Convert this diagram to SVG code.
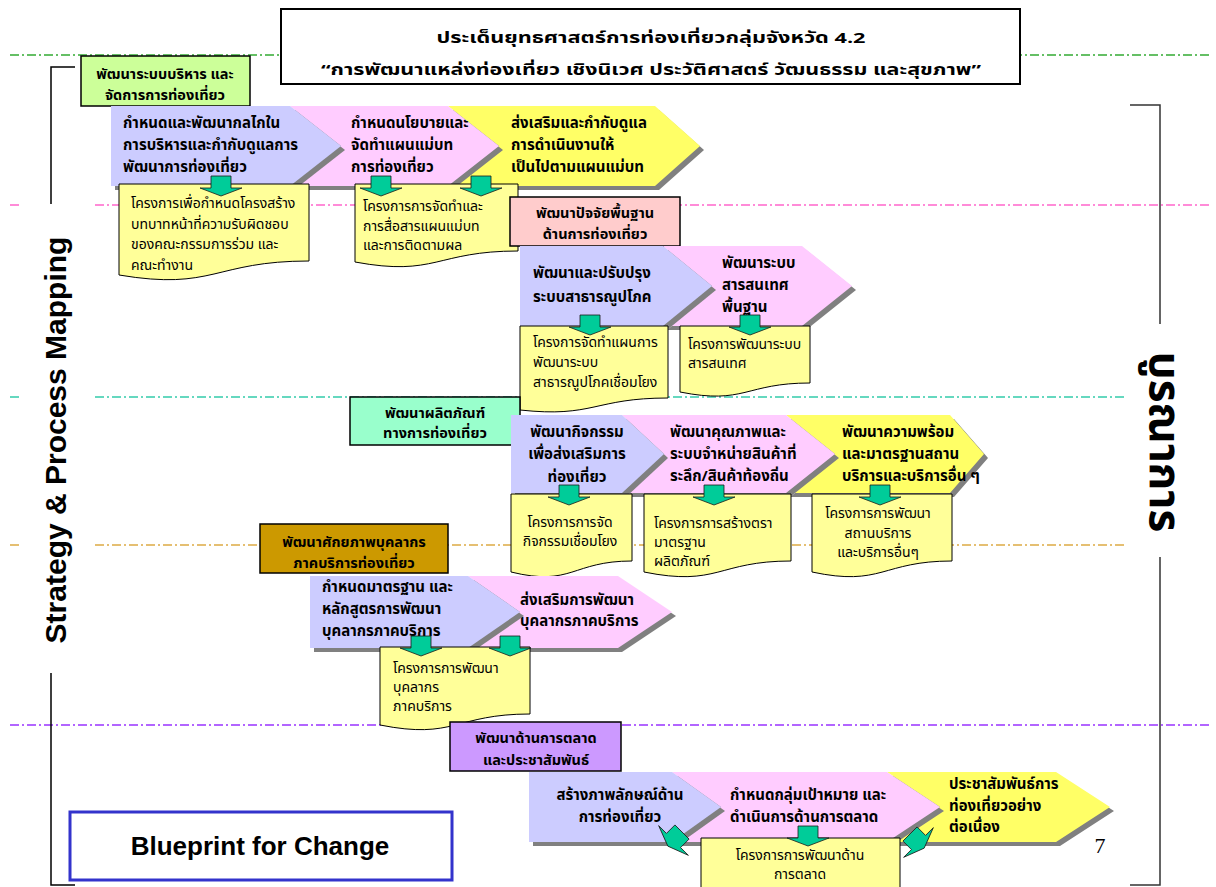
<svg xmlns="http://www.w3.org/2000/svg" xmlns:xlink="http://www.w3.org/1999/xlink" width="1216" height="887" viewBox="0 0 1216 887">
<style>
.t{font-family:'Noto Sans Thai',Tahoma,'Noto Sans','DejaVu Sans',sans-serif;font-weight:bold;font-size:15px;fill:#000}
.h{font-size:14.5px}
.d{font-family:'Noto Sans Thai',Tahoma,'Noto Sans','DejaVu Sans',sans-serif;font-weight:normal;font-size:14px;fill:#000}
.c{text-anchor:middle}
.hb{stroke:#000;stroke-width:1.5}
.sh{fill:#808080}
.lav{fill:#ccccff}
.pnk{fill:#ffccff}
.yel{fill:#ffff66}
.doc{fill:#ffff99;stroke:#000;stroke-width:1}
.arr{fill:#00cc99;stroke:#1a1a1a;stroke-width:0.8}
.gl{fill:none;stroke-width:1.3;stroke-dasharray:9 3 2 3}
</style>
<defs>
<path id="dn" d="M-10,0 H10 V12 H21 L0,20 L-21,12 H-10 Z"/>
</defs>
<rect width="1216" height="887" fill="#fff"/>
<g id="guides">
<line class="gl" x1="10" y1="55" x2="1212" y2="55" stroke="#33aa33"/>
<line class="gl" x1="10" y1="205" x2="1212" y2="205" stroke="#ff66cc"/>
<line class="gl" x1="10" y1="397" x2="1212" y2="397" stroke="#33ccaa"/>
<line class="gl" x1="10" y1="545" x2="1212" y2="545" stroke="#ddaa44"/>
<line class="gl" x1="10" y1="725" x2="1212" y2="725" stroke="#9933ff"/>
<rect x="20" y="202" width="72" height="472" fill="#fff"/>
<rect x="1127" y="324" width="89" height="233" fill="#fff"/>
</g>
<g id="brackets" fill="none" stroke="#000" stroke-width="1.5">
<path d="M75,67 H51 V204 M51,673 V885 H75"/>
<path d="M1130,105 H1160 V324 M1160,557 V885 H1130" stroke="#333"/>
</g>
<g id="side-labels">
<text transform="translate(57,440) rotate(-90)" y="9" text-anchor="middle" font-family="'Liberation Sans',Arial,sans-serif" font-weight="bold" font-size="30">Strategy &amp; Process Mapping</text>
<text transform="translate(1150,442) rotate(90)" text-anchor="middle" font-family="'Noto Sans Thai',Tahoma,'Noto Sans',sans-serif" font-weight="bold" font-size="44">บูรณาการ</text>
</g>
<g id="title">
<rect x="281" y="9" width="739" height="75" fill="#fff" stroke="#000" stroke-width="2"/>
<text class="t c" font-size="24" x="651" y="43" textLength="429" lengthAdjust="spacingAndGlyphs">ประเด็นยุทธศาสตร์การท่องเที่ยวกลุ่มจังหวัด 4.2</text>
<text class="t c" font-size="24" x="651" y="75" textLength="660" lengthAdjust="spacingAndGlyphs">“การพัฒนาแหล่งท่องเที่ยว เชิงนิเวศ ประวัติศาสตร์ วัฒนธรรม และสุขภาพ”</text>
</g>
<g id="blueprint">
<rect x="70" y="812" width="382" height="68" fill="#fff" stroke="#3333cc" stroke-width="3"/>
<text x="260" y="855" text-anchor="middle" font-family="'Liberation Sans',Arial,sans-serif" font-weight="bold" font-size="26">Blueprint for Change</text>
</g>
<text id="page" x="1100" y="853" text-anchor="middle" font-family="'Liberation Serif','Times New Roman',serif" font-size="22">7</text>

<!-- Row 1 -->
<g id="h1"><rect class="hb" x="81" y="56" width="169" height="50" fill="#ccff99"/>
<text class="t h c"><tspan x="165" y="79">พัฒนาระบบบริหาร และ</tspan><tspan x="165" y="100">จัดการการท่องเที่ยว</tspan></text></g>
<g id="c3"><polygon class="sh" transform="translate(4,4)" points="448,106 655,106 700,146 655,186 448,186 499,146"/><polygon class="yel" points="448,106 655,106 700,146 655,186 448,186 499,146"/>
<text class="t"><tspan x="511" y="128">ส่งเสริมและกำกับดูแล</tspan><tspan x="511" y="150">การดำเนินงานให้</tspan><tspan x="511" y="172">เป็นไปตามแผนแม่บท</tspan></text></g>
<g id="c2"><polygon class="sh" transform="translate(4,4)" points="290,106 448,106 499,146 448,186 290,186 341,146"/><polygon class="pnk" points="290,106 448,106 499,146 448,186 290,186 341,146"/>
<text class="t"><tspan x="351" y="128">กำหนดนโยบายและ</tspan><tspan x="351" y="150">จัดทำแผนแม่บท</tspan><tspan x="351" y="172">การท่องเที่ยว</tspan></text></g>
<g id="c1"><polygon class="sh" transform="translate(4,4)" points="111,106 290,106 341,146 290,186 111,186"/><polygon class="lav" points="111,106 290,106 341,146 290,186 111,186"/>
<text class="t"><tspan x="123" y="128">กำหนดและพัฒนากลไกใน</tspan><tspan x="123" y="150">การบริหารและกำกับดูแลการ</tspan><tspan x="123" y="172">พัฒนาการท่องเที่ยว</tspan></text></g>
<g id="d1"><path class="doc" d="M119,184 H309 V261 C214,261 214,291 119,275 Z"/>
<text class="d" font-size="13.5"><tspan x="131" y="208">โครงการเพื่อกำหนดโครงสร้าง</tspan><tspan x="131" y="228.5">บทบาทหน้าที่ความรับผิดชอบ</tspan><tspan x="131" y="249">ของคณะกรรมการร่วม และ</tspan><tspan x="131" y="270">คณะทำงาน</tspan></text></g>
<g id="d2"><path class="doc" d="M355,184 H518 V251 C436,251 436,277 355,262 Z"/>
<text class="d"><tspan x="363" y="211">โครงการการจัดทำและ</tspan><tspan x="363" y="231">การสื่อสารแผนแม่บท</tspan><tspan x="363" y="250">และการติดตามผล</tspan></text></g>

<!-- Row 2 -->
<g id="h2"><rect class="hb" x="510" y="197" width="170" height="49" fill="#ffcccc"/>
<text class="t h c"><tspan x="595" y="218">พัฒนาปัจจัยพื้นฐาน</tspan><tspan x="595" y="239">ด้านการท่องเที่ยว</tspan></text></g>
<g id="c5"><polygon class="sh" transform="translate(4,4)" points="663,246 802,246 852,286 802,326 663,326 712,286"/><polygon class="pnk" points="663,246 802,246 852,286 802,326 663,326 712,286"/>
<text class="t"><tspan x="722" y="268">พัฒนาระบบ</tspan><tspan x="722" y="290">สารสนเทศ</tspan><tspan x="722" y="312">พื้นฐาน</tspan></text></g>
<g id="c4"><polygon class="sh" transform="translate(4,4)" points="520,246 663,246 712,286 663,326 520,326"/><polygon class="lav" points="520,246 663,246 712,286 663,326 520,326"/>
<text class="t"><tspan x="533" y="278">พัฒนาและปรับปรุง</tspan><tspan x="533" y="302">ระบบสาธารณูปโภค</tspan></text></g>
<g id="d3"><path class="doc" d="M520,326 H668 V398 C594,398 594,418 520,410 Z"/>
<text class="d"><tspan x="533" y="347">โครงการจัดทำแผนการ</tspan><tspan x="533" y="367">พัฒนาระบบ</tspan><tspan x="533" y="387">สาธารณูปโภคเชื่อมโยง</tspan></text></g>
<g id="d4"><path class="doc" d="M680,326 H810 V383 C745,383 745,405 680,392 Z"/>
<text class="d"><tspan x="688" y="349">โครงการพัฒนาระบบ</tspan><tspan x="688" y="368">สารสนเทศ</tspan></text></g>

<!-- Row 3 -->
<g id="h3"><rect class="hb" x="350" y="397" width="170" height="48" fill="#99ffcc"/>
<text class="t h c"><tspan x="435" y="418">พัฒนาผลิตภัณฑ์</tspan><tspan x="435" y="438">ทางการท่องเที่ยว</tspan></text></g>
<g id="c8"><polygon class="sh" transform="translate(4,4)" points="786,415 950,415 984,454 950,493 786,493 835,454"/><polygon class="yel" points="786,415 950,415 984,454 950,493 786,493 835,454"/>
<text class="t"><tspan x="842" y="437">พัฒนาความพร้อม</tspan><tspan x="842" y="459">และมาตรฐานสถาน</tspan><tspan x="842" y="481">บริการและบริการอื่น ๆ</tspan></text></g>
<g id="c7"><polygon class="sh" transform="translate(4,4)" points="622,415 786,415 835,454 786,493 622,493 664,454"/><polygon class="pnk" points="622,415 786,415 835,454 786,493 622,493 664,454"/>
<text class="t"><tspan x="670" y="437">พัฒนาคุณภาพและ</tspan><tspan x="670" y="459">ระบบจำหน่ายสินค้าที่</tspan><tspan x="670" y="481">ระลึก/สินค้าท้องถิ่น</tspan></text></g>
<g id="c6"><polygon class="sh" transform="translate(4,4)" points="511,415 622,415 664,454 622,493 511,493"/><polygon class="lav" points="511,415 622,415 664,454 622,493 511,493"/>
<text class="t c"><tspan x="577" y="437">พัฒนากิจกรรม</tspan><tspan x="577" y="459">เพื่อส่งเสริมการ</tspan><tspan x="577" y="482">ท่องเที่ยว</tspan></text></g>
<g id="d5"><path class="doc" d="M511,494 H632 V561 C572,561 572,587 511,572 Z"/>
<text class="d c"><tspan x="570" y="527">โครงการการจัด</tspan><tspan x="570" y="546">กิจกรรมเชื่อมโยง</tspan></text></g>
<g id="d6"><path class="doc" d="M644,494 H791 V561 C718,561 718,587 644,572 Z"/>
<text class="d"><tspan x="654" y="528">โครงการการสร้างตรา</tspan><tspan x="654" y="547">มาตรฐาน</tspan><tspan x="654" y="566">ผลิตภัณฑ์</tspan></text></g>
<g id="d7"><path class="doc" d="M812,494 H952 V561 C882,561 882,587 812,572 Z"/>
<text class="d c"><tspan x="878" y="518">โครงการการพัฒนา</tspan><tspan x="878" y="538">สถานบริการ</tspan><tspan x="878" y="557">และบริการอื่นๆ</tspan></text></g>

<!-- Row 4 -->
<g id="h4"><rect class="hb" x="260" y="524" width="188" height="49" fill="#cc9900"/>
<text class="t h c"><tspan x="354" y="547">พัฒนาศักยภาพบุคลากร</tspan><tspan x="354" y="568">ภาคบริการท่องเที่ยว</tspan></text></g>
<g id="c10"><polygon class="sh" transform="translate(4,4)" points="468,576 618,576 672,612 618,648 468,648 520,612"/><polygon class="pnk" points="468,576 618,576 672,612 618,648 468,648 520,612"/>
<text class="t"><tspan x="520" y="605">ส่งเสริมการพัฒนา</tspan><tspan x="520" y="626">บุคลากรภาคบริการ</tspan></text></g>
<g id="c9"><polygon class="sh" transform="translate(4,4)" points="310,576 468,576 520,612 468,648 310,648"/><polygon class="lav" points="310,576 468,576 520,612 468,648 310,648"/>
<text class="t"><tspan x="322" y="592">กำหนดมาตรฐาน และ</tspan><tspan x="322" y="614">หลักสูตรการพัฒนา</tspan><tspan x="322" y="636">บุคลากรภาคบริการ</tspan></text></g>
<g id="d8"><path class="doc" d="M380,647 H530 V714 C455,714 455,740 380,725 Z"/>
<text class="d"><tspan x="393" y="673">โครงการการพัฒนา</tspan><tspan x="393" y="692">บุคลากร</tspan><tspan x="393" y="711">ภาคบริการ</tspan></text></g>

<!-- Row 5 -->
<g id="h5"><rect class="hb" x="450" y="722" width="171" height="49" fill="#cc99ff"/>
<text class="t h c"><tspan x="536" y="743">พัฒนาด้านการตลาด</tspan><tspan x="536" y="765">และประชาสัมพันธ์</tspan></text></g>
<g id="c13"><polygon class="sh" transform="translate(4,4)" points="887,772 1056,772 1110,807 1056,842 887,842 940,807"/><polygon class="yel" points="887,772 1056,772 1110,807 1056,842 887,842 940,807"/>
<text class="t"><tspan x="949" y="789">ประชาสัมพันธ์การ</tspan><tspan x="949" y="811">ท่องเที่ยวอย่าง</tspan><tspan x="949" y="832">ต่อเนื่อง</tspan></text></g>
<g id="c12"><polygon class="sh" transform="translate(4,4)" points="672,772 887,772 940,807 887,842 672,842 721,807"/><polygon class="pnk" points="672,772 887,772 940,807 887,842 672,842 721,807"/>
<text class="t"><tspan x="730" y="800">กำหนดกลุ่มเป้าหมาย และ</tspan><tspan x="730" y="822">ดำเนินการด้านการตลาด</tspan></text></g>
<g id="c11"><polygon class="sh" transform="translate(4,4)" points="529,772 672,772 721,807 672,842 529,842"/><polygon class="lav" points="529,772 672,772 721,807 672,842 529,842"/>
<text class="t c"><tspan x="620" y="800">สร้างภาพลักษณ์ด้าน</tspan><tspan x="620" y="822">การท่องเที่ยว</tspan></text></g>
<g id="d9"><path class="doc" d="M701,838 H900 V894 C800,894 800,915 701,903 Z"/>
<text class="d c"><tspan x="800" y="860">โครงการการพัฒนาด้าน</tspan><tspan x="800" y="879">การตลาด</tspan></text></g>

<g id="connectors">
<use xlink:href="#dn" class="arr" x="221" y="176"/>
<use xlink:href="#dn" class="arr" x="381" y="176"/>
<use xlink:href="#dn" class="arr" x="481" y="176"/>
<use xlink:href="#dn" class="arr" x="590" y="315"/>
<use xlink:href="#dn" class="arr" x="750" y="315"/>
<use xlink:href="#dn" class="arr" x="569" y="485"/>
<use xlink:href="#dn" class="arr" x="714" y="485"/>
<use xlink:href="#dn" class="arr" x="880" y="485"/>
<use xlink:href="#dn" class="arr" x="421" y="636"/>
<use xlink:href="#dn" class="arr" x="510" y="636"/>
<use xlink:href="#dn" class="arr" x="808" y="826"/>
<use xlink:href="#dn" class="arr" transform="translate(682,832) rotate(45)"/>
<use xlink:href="#dn" class="arr" transform="translate(910,834) rotate(-45)"/>
</g>
</svg>
